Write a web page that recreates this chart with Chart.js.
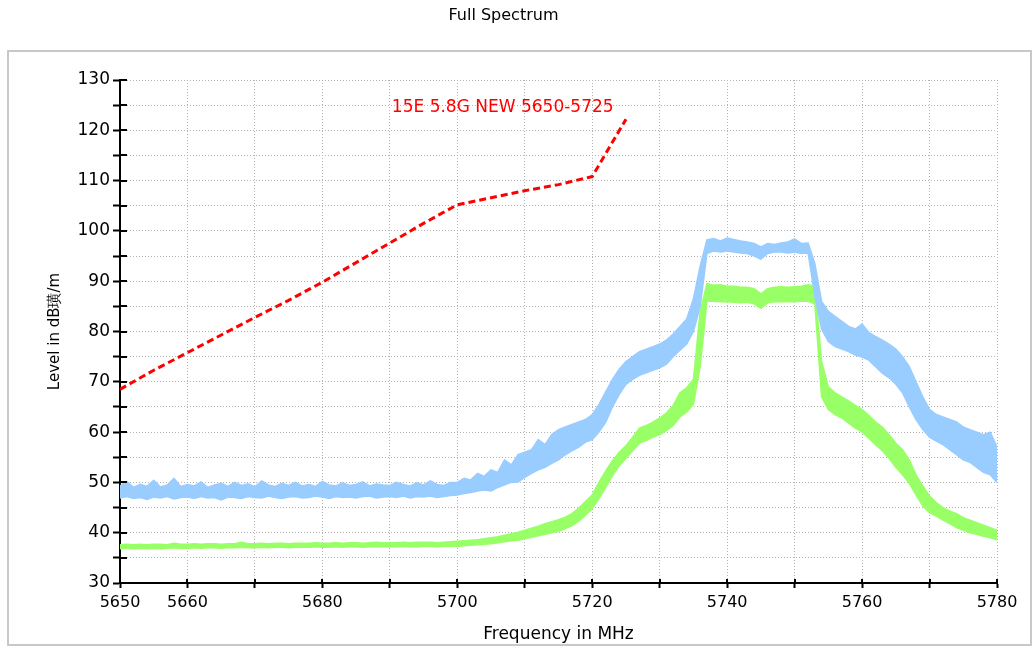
<!DOCTYPE html>
<html>
<head>
<meta charset="utf-8">
<title>Full Spectrum</title>
<script src="https://cdn.jsdelivr.net/npm/chart.js@4.4.1/dist/chart.umd.min.js"></script>
<style>
    html, body { margin: 0; padding: 0; background: #fff; }
    #wrap { width: 1035px; height: 646px; }
</style>
</head>
<body>
<div id="wrap"><canvas id="spectrumChart" width="1035" height="646"></canvas></div>
<script>
// Sample frequencies (MHz)
const freqs = [
    5650, 5651, 5652, 5653, 5654, 5655, 5656, 5657, 5658, 5659,
    5660, 5661, 5662, 5663, 5664, 5665, 5666, 5667, 5668, 5669,
    5670, 5671, 5672, 5673, 5674, 5675, 5676, 5677, 5678, 5679,
    5680, 5681, 5682, 5683, 5684, 5685, 5686, 5687, 5688, 5689,
    5690, 5691, 5692, 5693, 5694, 5695, 5696, 5697, 5698, 5699,
    5700, 5701, 5702, 5703, 5704, 5705, 5706, 5707, 5708, 5709,
    5710, 5711, 5712, 5713, 5714, 5715, 5716, 5717, 5718, 5719,
    5720, 5721, 5722, 5723, 5724, 5725, 5726, 5727, 5728, 5729,
    5730, 5731, 5732, 5733, 5734, 5735, 5736, 5737, 5738, 5739,
    5740, 5741, 5742, 5743, 5744, 5745, 5746, 5747, 5748, 5749,
    5750, 5751, 5752, 5753, 5754, 5755, 5756, 5757, 5758, 5759,
    5760, 5761, 5762, 5763, 5764, 5765, 5766, 5767, 5768, 5769,
    5770, 5771, 5772, 5773, 5774, 5775, 5776, 5777, 5778, 5779,
    5780
];

// Blue trace (peak), noise band: upper / lower edge in dBuV/m
const blueUpper = [
    49.3, 50.2, 49.0, 49.6, 49.2, 50.4, 49.1, 49.5, 50.8, 49.2,
    49.6, 49.3, 50.1, 49.0, 49.5, 49.8, 49.2, 50.0, 49.4, 49.7,
    49.1, 50.3, 49.5, 49.2, 49.8, 49.4, 50.0, 49.3, 49.6, 49.2,
    50.2, 49.5, 49.3, 49.9, 49.4, 49.6, 50.1, 49.3, 49.7, 49.5,
    49.4, 50.0, 49.6, 49.3, 49.9, 49.5, 50.3, 49.6, 49.4, 50.0,
    50.0, 50.8, 50.5, 51.8, 51.2, 52.5, 52.0, 54.5, 53.5, 55.5,
    56.0, 56.5, 58.5, 57.5, 59.5, 60.5, 61.0, 61.5, 62.0, 62.5,
    63.5, 65.5, 68.0, 70.5, 72.5, 74.0, 75.0, 76.0, 76.5, 77.0,
    77.5, 78.3, 79.5, 81.0, 82.5, 86.5, 93.0, 98.2, 98.5, 98.0,
    98.6, 98.3, 98.0, 97.8, 97.5, 96.8, 97.5, 97.3, 97.6, 97.8,
    98.4, 97.5, 97.6, 93.5, 86.0, 84.0, 83.0, 82.0, 81.0, 80.5,
    81.5, 79.8, 79.0, 78.3, 77.5, 76.5, 75.0, 73.0, 70.0, 67.0,
    64.5, 63.5, 63.0, 62.5, 62.0, 61.0, 60.5, 60.0, 59.5, 60.0,
    57.0
];
const blueLower = [
    46.9, 47.2, 46.8, 47.0, 46.6, 47.1, 46.9, 47.2, 46.7, 47.0,
    47.1, 46.8, 47.2, 46.9, 47.0, 46.5, 47.1, 47.0, 46.8, 47.2,
    47.0, 46.9, 47.3, 47.0, 46.8, 47.1, 47.2, 46.9, 47.0, 47.3,
    47.1, 46.8, 47.2, 47.0, 47.1, 46.9, 47.2, 47.3, 46.9, 47.1,
    47.2, 47.0, 47.3, 46.9, 47.2, 47.1, 47.3, 47.0, 47.2, 47.4,
    47.5, 47.8, 48.0, 48.3, 48.5, 48.3, 49.0, 49.5, 50.0, 50.1,
    51.0, 51.8, 52.5, 53.0, 53.8, 54.5, 55.5, 56.3, 57.0, 58.0,
    58.5, 60.0, 62.0, 65.0, 67.5, 69.5, 70.5, 71.3, 71.8, 72.3,
    72.8, 73.5, 75.0, 76.3, 77.5, 80.0, 85.0, 95.5, 96.0, 95.8,
    96.0, 95.8, 95.6, 95.5, 95.0, 94.4, 95.5, 95.8, 95.8, 95.6,
    95.8, 95.5, 95.6, 87.0, 80.5, 78.0, 77.0, 76.5, 76.0, 75.3,
    74.9, 74.3, 73.0, 71.7, 70.8, 69.5, 67.8, 65.0, 62.5, 60.5,
    59.0, 58.2, 57.5, 56.5, 55.5, 54.5, 54.0, 53.0, 52.0, 51.5,
    50.0
];

// Green trace (average), noise band
const greenUpper = [
    37.6, 37.7, 37.6, 37.7, 37.6, 37.7, 37.7, 37.6, 37.9, 37.7,
    37.7, 37.8, 37.7, 37.8, 37.8, 37.7, 37.8, 37.8, 38.1, 37.8,
    37.8, 37.9, 37.8, 37.9, 37.9, 37.8, 37.9, 37.9, 37.9, 38.0,
    37.9, 37.9, 38.0, 37.9, 38.0, 38.0, 37.9, 38.0, 38.1, 38.0,
    38.0, 38.0, 38.1, 38.0, 38.1, 38.1, 38.1, 38.0, 38.1, 38.2,
    38.3, 38.4, 38.5, 38.6, 38.8, 39.0, 39.2, 39.5, 39.8, 40.1,
    40.5, 40.9, 41.3, 41.8, 42.2, 42.6, 43.1, 43.8, 44.9, 46.2,
    47.5, 50.0, 52.3, 54.3, 56.0, 57.3, 59.0, 60.8, 61.3, 62.0,
    62.8, 63.8, 65.3, 67.8, 68.8, 70.5, 84.0, 89.5, 89.2, 89.3,
    89.0, 89.0, 88.8, 88.8, 88.5, 87.5, 88.5, 88.8, 88.9, 88.8,
    88.9, 89.0, 89.3, 89.0, 74.0, 69.0, 67.8, 67.0, 66.2, 65.3,
    64.5, 63.3, 62.0, 61.0, 59.5, 57.8, 56.5, 54.5, 51.5, 49.3,
    47.3, 46.0, 45.0, 44.3, 43.8, 43.0, 42.5, 42.0, 41.5, 41.0,
    40.5
];
const greenLower = [
    36.8, 36.9, 36.8, 36.9, 36.8, 36.9, 36.8, 36.9, 37.0, 36.9,
    36.9, 37.0, 36.9, 37.0, 37.0, 36.9, 37.0, 37.0, 37.1, 37.0,
    37.0, 37.1, 37.0, 37.1, 37.1, 37.0, 37.1, 37.1, 37.1, 37.2,
    37.1, 37.1, 37.2, 37.1, 37.2, 37.2, 37.1, 37.2, 37.2, 37.2,
    37.2, 37.2, 37.3, 37.2, 37.2, 37.3, 37.3, 37.2, 37.3, 37.3,
    37.3, 37.4, 37.5, 37.6, 37.7, 37.8, 38.0, 38.2, 38.4, 38.5,
    38.8, 39.1, 39.4, 39.7, 40.0, 40.3, 40.8, 41.4, 42.3, 43.5,
    44.8, 46.8, 49.0, 51.3, 53.3, 54.8, 56.3, 57.8, 58.3, 59.0,
    59.5, 60.3, 61.3, 63.0, 64.0, 65.5, 73.0, 86.0, 86.0, 85.9,
    85.9, 85.8, 85.7, 85.8, 85.5, 84.6, 85.7, 85.9, 85.9, 85.9,
    85.9, 86.0, 86.0, 85.5, 67.0, 64.5, 63.5, 62.8, 61.8, 60.8,
    60.0, 58.8, 57.5, 56.3, 54.8, 53.0, 51.5, 49.8, 47.5, 45.3,
    44.0, 43.3, 42.5, 41.8, 41.0, 40.5, 40.0, 39.7, 39.3, 39.0,
    38.6
];

// Limit line "15E 5.8G NEW 5650-5725"
const limitFreqs = [5650, 5655, 5660, 5665, 5670, 5675, 5680, 5685, 5690, 5695, 5700, 5705, 5710, 5715, 5720, 5725];
const limitLevels = [68.5, 72.3, 75.8, 79.3, 82.8, 86.2, 89.8, 93.7, 97.6, 101.5, 105.2, 106.6, 108.0, 109.2, 110.8, 122.2];
const limitName = '15E 5.8G NEW 5650-5725';
const limitLabelAt = { freq: 5690.3, level: 124.6 };

// Axis labels
const xLabelTicks = [5650, 5660, 5680, 5700, 5720, 5740, 5760, 5780];
const titleText = 'Full Spectrum';
const xTitle = 'Frequency in MHz';
const yTitle = 'Level in dB璜/m';

const BLUE = 'rgb(153, 204, 255)';
const GREEN = 'rgb(153, 255, 102)';
const RED = 'rgb(255, 0, 0)';
const FONT = "'DejaVu Sans', sans-serif";

function toPoints(xs, ys) {
    return xs.map((x, i) => ({ x: x, y: ys[i] }));
}

// light grey frame round the plot
const framePlugin = {
    id: 'frame',
    beforeDraw(chart) {
        const ctx = chart.ctx;
        ctx.save();
        ctx.fillStyle = '#fff';
        ctx.fillRect(0, 0, chart.width, chart.height);
        ctx.strokeStyle = '#c8c8c8';
        ctx.lineWidth = 2;
        ctx.strokeRect(8, 51, 1023, 594);
        ctx.restore();
    }
};

// tick marks crossing into the plot area + limit label
const extrasPlugin = {
    id: 'extras',
    afterDraw(chart) {
        const ctx = chart.ctx;
        const xs = chart.scales.x;
        const ys = chart.scales.y;
        const area = chart.chartArea;
        ctx.save();
        ctx.strokeStyle = '#000';
        ctx.lineWidth = 2;
        ctx.beginPath();
        ys.ticks.forEach(t => {
            const py = Math.round(ys.getPixelForValue(t.value));
            ctx.moveTo(area.left, py);
            ctx.lineTo(area.left + 7, py);
        });
        xs.ticks.forEach(t => {
            const px = Math.round(xs.getPixelForValue(t.value));
            ctx.moveTo(px, area.bottom);
            ctx.lineTo(px, area.bottom - 4);
        });
        ctx.stroke();

        ctx.fillStyle = RED;
        ctx.font = '17px ' + FONT;
        ctx.textAlign = 'left';
        ctx.textBaseline = 'middle';
        ctx.fillText(limitName, xs.getPixelForValue(limitLabelAt.freq), ys.getPixelForValue(limitLabelAt.level));
        ctx.restore();
    }
};

function initChart() {
    const ctx = document.getElementById('spectrumChart').getContext('2d');
    new Chart(ctx, {
        type: 'line',
        data: {
            datasets: [{
                label: limitName,
                data: toPoints(limitFreqs, limitLevels),
                borderColor: RED,
                borderWidth: 3,
                borderDash: [7, 4],
                pointRadius: 0,
                fill: false
            }, {
                label: 'Peak upper',
                data: toPoints(freqs, blueUpper),
                borderColor: BLUE,
                backgroundColor: BLUE,
                borderWidth: 1.5,
                pointRadius: 0,
                fill: '+1'
            }, {
                label: 'Peak lower',
                data: toPoints(freqs, blueLower),
                borderColor: BLUE,
                borderWidth: 1.5,
                pointRadius: 0,
                fill: false
            }, {
                label: 'Average upper',
                data: toPoints(freqs, greenUpper),
                borderColor: GREEN,
                backgroundColor: GREEN,
                borderWidth: 1.5,
                pointRadius: 0,
                fill: '+1'
            }, {
                label: 'Average lower',
                data: toPoints(freqs, greenLower),
                borderColor: GREEN,
                borderWidth: 1.5,
                pointRadius: 0,
                fill: false
            }]
        },
        options: {
            responsive: false,
            animation: false,
            devicePixelRatio: 1,
            layout: { padding: { left: 10, right: 38, top: 0, bottom: 0 } },
            plugins: {
                legend: { display: false },
                tooltip: { enabled: false },
                title: {
                    display: true,
                    text: titleText,
                    color: '#000',
                    font: { family: FONT, size: 16, weight: 'normal' },
                    padding: { top: 6, bottom: 54.8 }
                }
            },
            scales: {
                x: {
                    type: 'linear',
                    min: 5650,
                    max: 5780,
                    afterFit: scale => { scale.height = 63; },
                    border: { display: true, color: '#000', width: 2, dash: [1, 2] },
                    grid: {
                        color: '#b4b4b4',
                        lineWidth: 1,
                        drawTicks: true,
                        tickLength: 5,
                        tickColor: '#000',
                        tickWidth: 2
                    },
                    ticks: {
                        stepSize: 10,
                        autoSkip: false,
                        maxRotation: 0,
                        padding: 5,
                        color: '#000',
                        font: { family: FONT, size: 16 },
                        callback: v => xLabelTicks.includes(v) ? String(v) : ''
                    },
                    title: {
                        display: true,
                        text: xTitle,
                        color: '#000',
                        font: { family: FONT, size: 17 },
                        padding: { top: 0, bottom: 1 }
                    }
                },
                y: {
                    min: 30,
                    max: 130,
                    afterFit: scale => { scale.width = 110; },
                    border: { display: true, color: '#000', width: 2, dash: [1, 2] },
                    grid: {
                        color: '#b4b4b4',
                        lineWidth: 1,
                        drawTicks: true,
                        tickLength: 7,
                        tickColor: '#000',
                        tickWidth: 2
                    },
                    ticks: {
                        stepSize: 5,
                        autoSkip: false,
                        padding: 3,
                        color: '#000',
                        font: { family: FONT, size: 17 },
                        callback: v => v % 10 === 0 ? String(v) : ''
                    },
                    title: {
                        display: true,
                        text: yTitle,
                        color: '#000',
                        font: { family: FONT, size: 15 },
                        padding: { top: 36, bottom: 0 }
                    }
                }
            }
        },
        plugins: [framePlugin, extrasPlugin]
    });
}

document.addEventListener('DOMContentLoaded', function() {
    initChart();
});
</script>
</body>
</html>
